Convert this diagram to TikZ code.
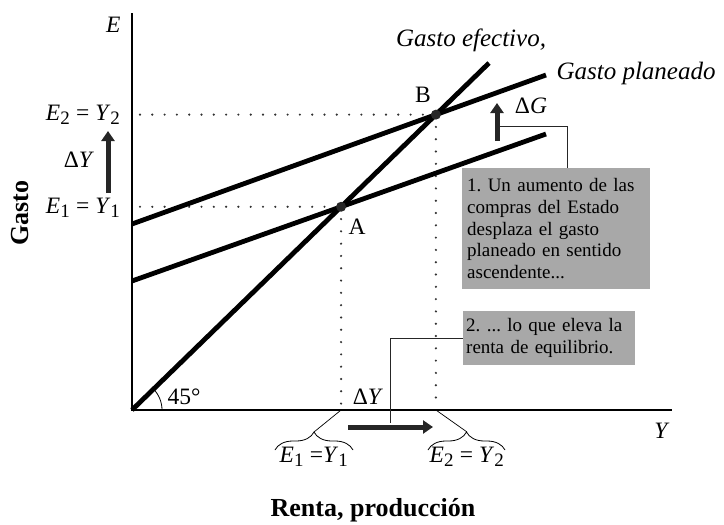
\documentclass[tikz,border=0pt]{standalone}
\usepackage{fontspec}
\setmainfont{Liberation Serif}
\usetikzlibrary{arrows.meta,decorations.pathreplacing,calc}
\definecolor{boxgray}{RGB}{168,168,168}
\definecolor{dotgray}{RGB}{50,50,50}
\newcommand{\sub}[1]{\textsubscript{\fontsize{19}{19}\selectfont #1}}
\frenchspacing
\begin{document}
\begin{tikzpicture}[x=1pt,y=-1pt,
  curve/.style={line width=4.8pt},
  axis/.style={line width=1.2pt},
  guide/.style={line width=2.4pt, line cap=round, dash pattern=on 0pt off 12.3pt, draw=dotgray},
  callout/.style={line width=0.9pt, draw=black!85},
  bigarrow/.style={line width=5pt, draw=black!85, -{Triangle[length=10pt,width=13pt]}},
  note/.style={fill=boxgray, font=\fontsize{19}{21.7}\selectfont, align=left, inner sep=0pt, anchor=north west},
  lab/.style={font=\fontsize{23.5}{26}\selectfont},
  ital/.style={font=\fontsize{25}{28}\selectfont\itshape},
  bold/.style={font=\fontsize{26}{28}\selectfont\bfseries},
  pt/.style={circle, fill=black!85, inner sep=0pt, minimum size=10pt},
  br/.style={decorate, decoration={brace, amplitude=18pt}, line width=0.8pt}
]
\useasboundingbox (0,0) rectangle (724,525);
% key points
\coordinate (O) at (132,410);
\coordinate (Etop) at (132,13);
\coordinate (Xend) at (672,410);
\coordinate (Deff) at (489,63);
\coordinate (P1s) at (132,281);
\coordinate (P1e) at (546,134);
\coordinate (P2s) at (132,224);
\coordinate (P2e) at (546,75);
\coordinate (A) at (intersection of O--Deff and P1s--P1e);
\coordinate (B) at (intersection of O--Deff and P2s--P2e);
% dotted guides
\draw[guide] ($(O|-A)+(8,0)$) -- (A);
\draw[guide] ($(O|-B)+(8,0)$) -- (B);
\draw[guide] (A) -- ($(A|-O)+(0,-5)$);
\draw[guide] (B) -- ($(B|-O)+(0,-5)$);
% axes
\draw[axis] (Etop) -- (O) -- (Xend);
% curves
\draw[curve] (O) -- (Deff);
\draw[curve] (P1s) -- (P1e);
\draw[curve] (P2s) -- (P2e);
\node[pt] (Apt) at (A) {};
\node[pt] (Bpt) at (B) {};
% 45 deg arc
\draw[line width=0.8pt] ($(O)+(30,0)$) arc[start angle=0, end angle=-45, radius=30];
\node[lab, anchor=west] (deg) at (164,397) {45°};
% axis labels
\node[lab, anchor=east] (Elab) at (124,25) {\textit{E}};
\node[lab, anchor=center] (Ylab) at (662,431) {\textit{Y}};
\node[lab, anchor=east] (E2lab) at (124,115) {\textit{E}\sub{2} = \textit{Y}\sub{2}};
\node[lab, anchor=east] (E1lab) at (124,208) {\textit{E}\sub{1} = \textit{Y}\sub{1}};
\node[lab] (dYv) at (79,160) {Δ\textit{Y}};
\node[bold, rotate=90] (gasto) at (20,213) {Gasto};
\node[bold] (renta) at (373,510) {Renta, producción};
\node[ital, anchor=center] (geff) at (471,40) {Gasto efectivo,};
\node[ital, anchor=west] (gpl) at (553,73) {Gasto planeado};
\node[lab] (Blab) at (423,95) {B};
\node[lab] (Alab) at (357,227) {A};
% vertical Delta Y arrow
\coordinate (vy1) at (108,193);
\coordinate (vy2) at (108,131);
\draw[bigarrow] (vy1) -- (vy2);
% Delta G arrow
\coordinate (g1) at (497,141);
\coordinate (g2) at (497,103);
\draw[bigarrow] (g1) -- (g2);
\node[lab] (dG) at (531,106) {Δ\textit{G}};
% box 1
\node[note, minimum width=186pt, minimum height=121pt, text width=178pt, inner xsep=5pt] (box1) at (462,168)
 {1. Un aumento de las\\compras del Estado\\desplaza el gasto\\planeado en sentido\\ascendente...};
\coordinate (c1) at (499,126);
\draw[callout] (c1) -| ($(box1.north west)+(105,0)$);
% horizontal Delta Y arrow
\coordinate (h1) at (348,427);
\coordinate (h2) at (433,427);
\draw[bigarrow] (h1) -- (h2);
\node[lab] (dYh) at (368,397) {Δ\textit{Y}};
% box 2
\node[note, minimum width=172pt, minimum height=54pt, text width=166pt, inner xsep=3pt] (box2) at (463,311)
 {2. ... lo que eleva la\\renta de equilibrio.};
\coordinate (c2) at (390,423);
\draw[callout] (c2) |- (box2.west);
% braces
\draw[br] (275,450) -- (353,450);
\draw[line width=0.7pt] (314,432) -- (A|-O);
\node[lab] (E1b) at (314,457) {\textit{E}\sub{1} =\textit{Y}\sub{1}};
\draw[br] (428,450) -- (505,450);
\draw[line width=0.7pt] (467,432) -- (B|-O);
\node[lab] (E2b) at (467,457) {\textit{E}\sub{2} = \textit{Y}\sub{2}};
\end{tikzpicture}
\end{document}
